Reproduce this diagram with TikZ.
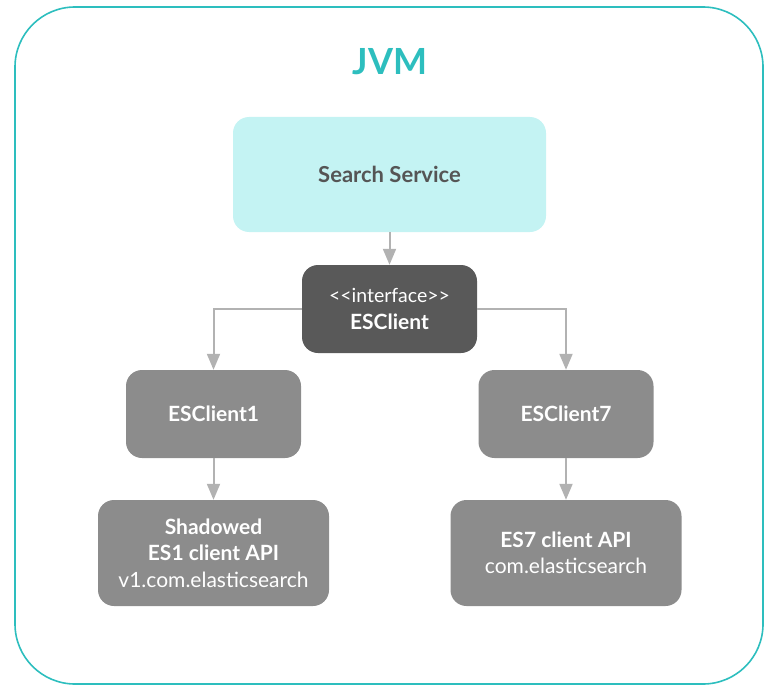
\documentclass[tikz,border=0pt]{standalone}
\usepackage{fontspec}
\setmainfont{Lato}
\usepackage{tikz}
\usetikzlibrary{arrows.meta}
\definecolor{jvm_teal}{RGB}{45,190,190}
\definecolor{service_cyan}{RGB}{196,243,243}
\definecolor{iface_gray}{RGB}{89,89,89}
\definecolor{impl_gray}{RGB}{140,140,140}
\definecolor{edge_gray}{RGB}{178,178,178}
\definecolor{text_gray}{RGB}{85,85,85}

\begin{document}
\begin{tikzpicture}[x=1pt,y=-1pt,>={Triangle[length=16pt,width=13pt]}]
    \tikzstyle{box}=[rounded corners=16pt, align=center, inner sep=0pt, font=\fontsize{21}{26.5}\selectfont]
    \tikzstyle{service}=[box, fill=service_cyan, text=text_gray, minimum width=313pt, minimum height=115pt, font=\fontsize{22}{26}\selectfont\bfseries]
    \tikzstyle{iface}=[box, fill=iface_gray, text=white, minimum width=175pt, minimum height=88pt]
    \tikzstyle{impl}=[box, fill=impl_gray, text=white, minimum width=175pt, minimum height=88pt]
    \tikzstyle{lib}=[box, fill=impl_gray, text=white, minimum width=231pt, minimum height=106pt]
    \tikzstyle{link}=[->, draw=edge_gray, line width=2pt]

    \useasboundingbox (0,0) rectangle (783,695);
    \draw[jvm_teal, line width=1.6pt, rounded corners=60pt] (15,7) rectangle (763,684);
    \node[text=jvm_teal, font=\fontsize{36}{36}\selectfont\bfseries] (jvm) at (390,62) {JVM};

    \node[service] (ss)   at (389.5,174.5) {Search Service};
    \node[iface]   (esc)  at (389.5,309)   {\fontsize{19.5}{25}\selectfont <{}<interface>{}>\\ \bfseries ESClient};
    \node[impl]    (esc1) at (213.5,414)   {\bfseries ESClient1};
    \node[impl]    (esc7) at (566,414)     {\bfseries ESClient7};
    \node[lib]     (api1) at (213.5,553)   {\bfseries Shadowed\\ \bfseries ES1 client API\\ v1.com.elasticsearch};
    \node[lib]     (api7) at (566,553)     {\bfseries ES7 client API\\ com.elasticsearch};

    \path
     (ss)   edge[link] (esc)
     (esc1) edge[link] (api1)
     (esc7) edge[link] (api7)
     ;
    \draw[link] (esc.west) -| (esc1.north);
    \draw[link] (esc.east) -| (esc7.north);
\end{tikzpicture}
\end{document}
